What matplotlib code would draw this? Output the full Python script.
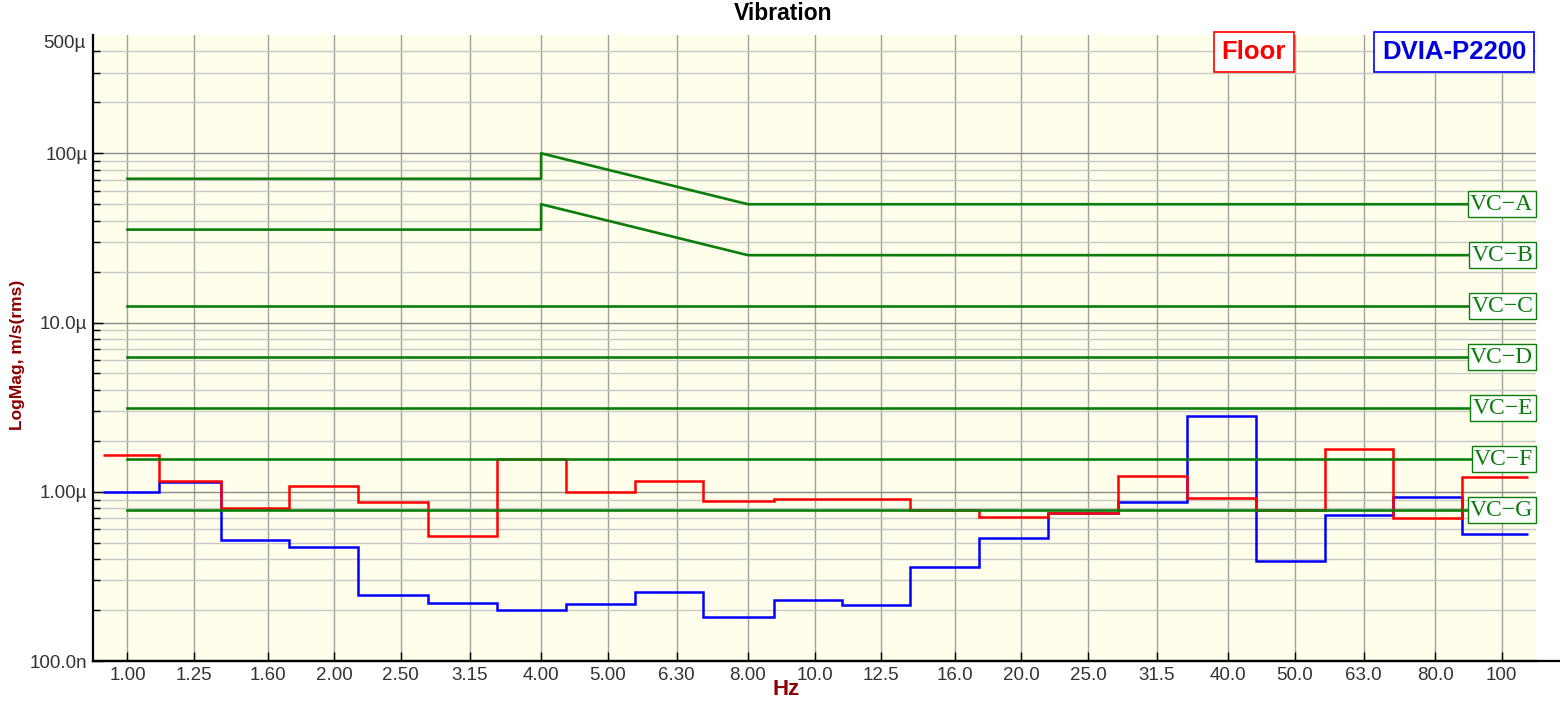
import numpy as np
import matplotlib
matplotlib.use('Agg')
import matplotlib.pyplot as plt
from matplotlib.lines import Line2D
from matplotlib.ticker import FixedLocator, FixedFormatter, NullLocator

plt.rcParams['font.family'] = ['Liberation Sans', 'DejaVu Sans']

# third-octave band labels (Hz)
band_freqs = [1.0, 1.25, 1.6, 2.0, 2.5, 3.15, 4.0, 5.0, 6.3, 8.0, 10.0,
              12.5, 16.0, 20.0, 25.0, 31.5, 40.0, 50.0, 63.0, 80.0, 100.0]
band_labels = ['1.00', '1.25', '1.60', '2.00', '2.50', '3.15', '4.00', '5.00',
               '6.30', '8.00', '10.0', '12.5', '16.0', '20.0', '25.0', '31.5',
               '40.0', '50.0', '63.0', '80.0', '100']

# step edges as the analyser draws them (Hz)
step_edges = [0.92, 1.113, 1.367, 1.721, 2.166, 2.739, 3.448, 4.345, 5.48,
              6.89, 8.72, 10.97, 13.76, 17.36, 21.88, 27.61, 34.83, 43.9,
              55.26, 69.55, 87.54, 109.1]

# band levels, um/s rms
floor_um = [1.647, 1.161, 0.804, 1.081, 0.866, 0.545, 1.56, 0.992, 1.152,
            0.878, 0.909, 0.909, 0.785, 0.712, 0.748, 1.238, 0.914, 0.785,
            1.787, 0.697, 1.226]
dvia_um = [0.992, 1.146, 0.518, 0.469, 0.245, 0.221, 0.200, 0.216, 0.257,
           0.182, 0.229, 0.215, 0.358, 0.535, 0.748, 0.866, 2.80, 0.390,
           0.728, 0.927, 0.560]

# VC criteria, um/s
vc_names = ['VC\u2212A', 'VC\u2212B', 'VC\u2212C', 'VC\u2212D', 'VC\u2212E',
            'VC\u2212F', 'VC\u2212G']
vc_levels = [50.0, 25.0, 12.5, 6.25, 3.12, 1.56, 0.78]
vc_ab_freq = [1.0, 4.0, 4.0, 8.0, 112.2]
vc_a_curve = [70.7, 70.7, 100.0, 50.0, 50.0]
vc_b_curve = [35.4, 35.4, 50.0, 25.0, 25.0]

green = '#0b7d0b'
dark_red = '#8b0000'

fig = plt.figure(figsize=(15.6, 7.03), dpi=100)
ax_l, ax_b = 93 / 1560, 42 / 703
ax = fig.add_axes([ax_l, ax_b, 1443 / 1560, 626 / 703])
ax.set_facecolor('#fefeea')

um = 1e-6
ax.stairs(np.array(dvia_um) * um, step_edges, baseline=None, color='#0000ff',
          lw=1.8, zorder=3)
ax.stairs(np.array(floor_um) * um, step_edges, baseline=None, color='#ff0000',
          lw=1.8, zorder=4)

ax.plot(vc_ab_freq, np.array(vc_a_curve) * um, color=green, lw=1.9, zorder=5)
ax.plot(vc_ab_freq, np.array(vc_b_curve) * um, color=green, lw=1.9, zorder=5)
for lvl in vc_levels[2:]:
    ax.plot([1.0, 112.2], [lvl * um, lvl * um], color=green, lw=1.9, zorder=5)

for name, lvl in zip(vc_names, vc_levels):
    ax.annotate(name, xy=(1, lvl * um), xycoords=('axes fraction', 'data'),
                xytext=(-2, 0), textcoords='offset points', ha='right',
                va='center', fontsize=17, color=green,
                family=['Liberation Serif', 'DejaVu Serif'], zorder=6,
                bbox=dict(boxstyle='square,pad=0.1', fc='white', ec=green, lw=1.0))

ax.set_xscale('log')
ax.set_yscale('log')
ax.set_xlim(0.891, 112.2)
ax.set_ylim(1e-7, 5e-4)

ax.xaxis.set_major_locator(FixedLocator(band_freqs))
ax.xaxis.set_major_formatter(FixedFormatter(band_labels))
ax.xaxis.set_minor_locator(NullLocator())

ax.yaxis.set_major_locator(FixedLocator([1e-7, 1e-6, 1e-5, 1e-4]))
ax.yaxis.set_major_formatter(FixedFormatter(['100.0n', '1.00\u00b5', '10.0\u00b5', '100\u00b5']))
minor = [m * 10.0 ** e for e in range(-7, -3) for m in range(2, 10) if m * 10.0 ** e < 5e-4]
ax.yaxis.set_minor_locator(FixedLocator(minor))
ax.text(-0.005, 5e-4, '500\u00b5', transform=ax.get_yaxis_transform(),
        ha='right', va='top', fontsize=13.5, color='#333333')

ax.tick_params(axis='both', which='both', direction='in', labelsize=13.5,
               labelcolor='#333333', width=1.0)
ax.tick_params(axis='x', which='major', length=6.5, pad=4)
ax.tick_params(axis='y', which='major', length=7, pad=4)
ax.tick_params(axis='y', which='minor', length=5)

ax.grid(True, axis='x', which='major', color='#a0a0a0', lw=1.0)
ax.grid(True, axis='y', which='major', color='#8a8a8a', lw=1.0)
ax.grid(True, axis='y', which='minor', color='#c8c8c8', lw=1.0)
ax.set_axisbelow(True)

for s in ['top', 'right']:
    ax.spines[s].set_visible(False)
for s in ['left', 'bottom']:
    ax.spines[s].set_linewidth(1.6)
fig.add_artist(Line2D([ax_l, 1.0], [ax_b, ax_b], transform=fig.transFigure,
                      color='black', lw=1.6))

# legend boxes
ax.text(0.8268, 0.9728, 'Floor', transform=ax.transAxes, ha='right', va='center',
        color='#ff0000', fontsize=18.5, weight='bold', zorder=7,
        bbox=dict(boxstyle='square,pad=0.3', fc='white', ec='#ff0000', lw=1.2))
ax.text(0.9931, 0.9728, 'DVIA-P2200', transform=ax.transAxes, ha='right', va='center',
        color='#0000dd', fontsize=18.5, weight='bold', zorder=7,
        bbox=dict(boxstyle='square,pad=0.3', fc='white', ec='#0000ff', lw=1.2))

fig.text(0.502, 0.981, 'Vibration', ha='center', va='center', fontsize=16.5, weight='bold')
fig.text(0.0109, 0.495, 'LogMag, m/s(rms)', rotation=90, ha='center', va='center',
         fontsize=12.5, weight='bold', color=dark_red)
fig.text(0.504, 0.019, 'Hz', ha='center', va='center', fontsize=16, weight='bold',
         color=dark_red)

fig.savefig('out.png', dpi=100)
